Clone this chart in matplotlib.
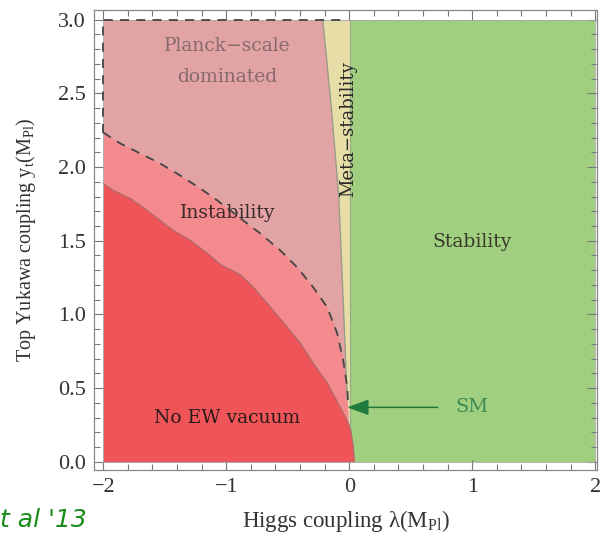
import numpy as np
import matplotlib
matplotlib.use("Agg")
import matplotlib.pyplot as plt
from matplotlib.ticker import MultipleLocator

# boundary of the "No EW vacuum" region: yt(lambda)
lam_red = [-2.0, -1.919, -1.78, -1.675, -1.537, -1.431, -1.293, -1.154, -1.04, -0.886,
           -0.78, -0.667, -0.504, -0.398, -0.293, -0.179, -0.073, 0.008, 0.033, 0.041]
yt_red = [1.889, 1.842, 1.787, 1.726, 1.638, 1.571, 1.503, 1.415, 1.335, 1.27,
          1.185, 1.076, 0.914, 0.806, 0.670, 0.535, 0.372, 0.237, 0.102, 0.0]

# dashed boundary (instability / Planck-scale dominated)
lam_inst = [-2.0, -1.862, -1.699, -1.537, -1.374, -1.211, -1.073, -0.862, -0.724, -0.561,
            -0.423, -0.293, -0.179, -0.098, -0.049, -0.016, -0.008]
yt_inst = [2.234, 2.160, 2.092, 2.024, 1.943, 1.855, 1.774, 1.638, 1.550, 1.435,
           1.320, 1.185, 1.049, 0.873, 0.691, 0.508, 0.399]

# meta-stability boundary: lambda(yt)
yt_meta = [0.0, 0.33, 0.42, 1.10, 1.80, 2.40, 3.0]
lam_meta = [-0.004, -0.008, -0.016, -0.049, -0.085, -0.145, -0.215]

lam_stab = 0.01

# SM point
sm_lam, sm_yt = -0.016, 0.37

c_planck = '#e2a3a5'
c_inst = '#f38a8e'
c_red = '#ef5558'
c_meta = '#e6dea6'
c_green = '#a1cf80'

fig = plt.figure(figsize=(6.01, 5.44), dpi=100)
ax = fig.add_axes([94/601, 1-470/544, (597-94)/601, 460/544])

serif = ['Liberation Serif', 'DejaVu Serif']
lab = ['DejaVu Serif']

ax.fill_betweenx(yt_meta, -2, lam_meta, color=c_planck, lw=0)
ax.fill_between(lam_inst, 0, yt_inst, color=c_inst, lw=0)
ax.fill_between([-2.0, -2.0], 0, [yt_inst[0], yt_inst[0]], color=c_inst, lw=0)
ax.fill_betweenx(yt_meta, lam_meta, lam_stab, color=c_meta, lw=0)
ax.fill_between([lam_stab, 2.0], 0, 3.0, color=c_green, lw=0)
ax.fill_between(lam_red, 0, yt_red, color=c_red, lw=0)

ax.plot(lam_red, yt_red, color='#b06a6a', lw=0.9)
ax.plot(lam_meta[2:], yt_meta[2:], color='#9a9a8a', lw=1.0)
ax.plot([lam_stab, lam_stab], [0.24, 3], color='#9aa890', lw=0.8)
ax.plot([-2, 2, 2, -2, -2], [0, 0, 3, 3, 0], color='#a8a8a8', lw=0.6)

dash = dict(color='#454545', lw=1.3, dashes=(5, 4))
ax.plot(lam_inst, yt_inst, **dash)
ax.plot([-2.0, -2.0, -0.06], [yt_inst[0], 3.0, 3.0], **dash)

ax.annotate('', xy=(sm_lam, sm_yt), xytext=(0.72, sm_yt),
            arrowprops=dict(arrowstyle='-|>,head_length=0.6,head_width=0.22', color='#1f7a3c', lw=1.1,
                            mutation_scale=22, shrinkA=0, shrinkB=0))
ax.text(1.0, sm_yt, 'SM', color='#3c8a52', fontsize=14, family=lab,
        ha='center', va='center')

fs = 13.5
ax.text(-0.99, 2.82, 'Planck\u2212scale', color='#876a6c', fontsize=fs, family=lab, ha='center', va='center')
ax.text(-0.99, 2.61, 'dominated', color='#876a6c', fontsize=fs, family=lab, ha='center', va='center')
ax.text(-0.99, 1.69, 'Instability', color='#3a2a2a', fontsize=fs, family=lab, ha='center', va='center')
ax.text(1.0, 1.49, 'Stability', color='#3a3a2a', fontsize=fs, family=lab, ha='center', va='center')
ax.text(-0.99, 0.30, 'No EW vacuum', color='#2a1a1a', fontsize=fs, family=lab, ha='center', va='center')
ax.text(-0.01, 2.26, 'Meta\u2212stability', color='#2a2a2a', fontsize=13, family=lab,
        ha='center', va='center', rotation=90)

ax.set_xlim(-2.075, 2.015)
ax.set_ylim(-0.055, 3.065)
ax.xaxis.set_major_locator(MultipleLocator(1))
ax.xaxis.set_minor_locator(MultipleLocator(0.2))
ax.yaxis.set_major_locator(MultipleLocator(0.5))
ax.yaxis.set_minor_locator(MultipleLocator(0.1))
ax.tick_params(which='both', direction='in', top=True, right=True, color='#777777', width=0.8)
ax.tick_params(which='major', length=7, labelsize=16, pad=6, labelcolor='#333333')
ax.tick_params(which='minor', length=4)
ax.xaxis.set_major_formatter(matplotlib.ticker.FuncFormatter(lambda v, p: f'{v:.0f}'.replace('-', '\u2212')))
ax.yaxis.set_major_formatter(matplotlib.ticker.FormatStrFormatter('%.1f'))
for t in ax.get_xticklabels() + ax.get_yticklabels():
    t.set_family(serif)
for s in ax.spines.values():
    s.set_color('#888888')
    s.set_linewidth(0.9)

ax.set_xlabel(r'Higgs coupling $\mathregular{\lambda(M_{Pl})}$', fontsize=16.5, family=serif, color='#333333', labelpad=8)
ax.set_ylabel(r'Top Yukawa coupling $\mathregular{y_t(M_{Pl})}$', fontsize=14.5, family=serif, color='#333333', labelpad=14)

fig.text(0.0, 0.045, "t al '13", color='#1a8a1a', fontsize=18, style='italic', ha='left', va='center')

fig.savefig('out.png', dpi=100)
